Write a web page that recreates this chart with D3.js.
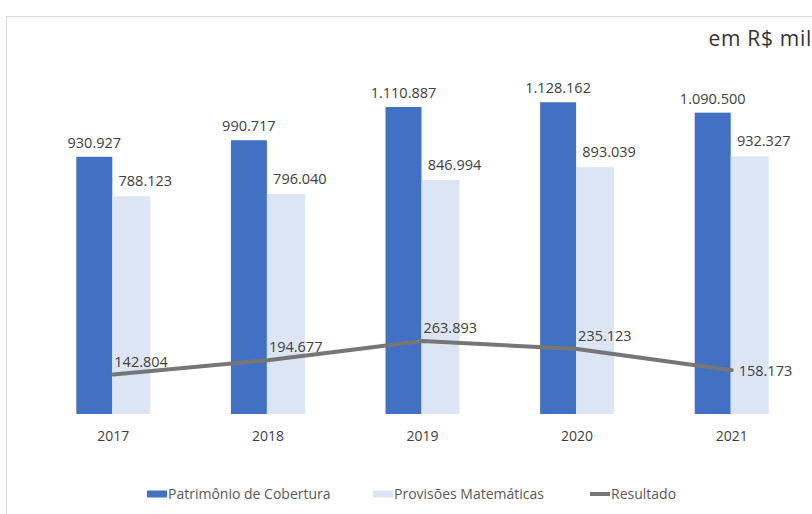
<!DOCTYPE html>
<html>
<head>
<meta charset="utf-8">
<script src="https://cdn.jsdelivr.net/npm/d3@7"></script>
<style>
  body { margin: 0; background: #fff; }
  svg { font-family: "Open Sans", sans-serif; }
</style>
</head>
<body>
<svg width="812" height="514"></svg>
<script>
// data (R$ mil)
var years = ["2017", "2018", "2019", "2020", "2021"];
var patrimonio = [930927, 990717, 1110887, 1128162, 1090500];
var provisoes = [788123, 796040, 846994, 893039, 932327];
var resultado = [142804, 194677, 263893, 235123, 158173];
var seriesNames = ["Patrimônio de Cobertura", "Provisões Matemáticas", "Resultado"];
var unitLabel = "em R$ mil";

var svg = d3.select("svg"),
  width = +svg.attr("width"),
  height = +svg.attr("height");

var ptBR = d3.formatLocale({decimal: ",", thousands: ".", grouping: [3], currency: ["R$", ""]});
var fmt = ptBR.format(",d");

var x0 = d3.scaleBand().domain(years).range([36, 809]).padding(0);
var y = d3.scaleLinear().domain([0, 1200000]).range([414, 82.4]);

var cx = function(d) { return x0(d) + x0.bandwidth() / 2; };

// chart border
svg.append("rect")
  .attr("x", 6.5).attr("y", 16.5)
  .attr("width", 900).attr("height", 600)
  .attr("fill", "none").attr("stroke", "#d9d9d9");

svg.append("text")
  .attr("x", 812).attr("y", 46)
  .attr("text-anchor", "end")
  .attr("font-size", 21)
  .attr("letter-spacing", 0.7)
  .attr("fill", "#333")
  .text(unitLabel);

var g = svg.append("g");

// bars
g.selectAll(".bar-p")
  .data(years)
  .enter().append("rect")
  .attr("class", "bar-p")
  .attr("x", function(d) { return cx(d) - 37; })
  .attr("y", function(d, i) { return y(patrimonio[i]); })
  .attr("width", 36)
  .attr("height", function(d, i) { return y(0) - y(patrimonio[i]); })
  .attr("fill", "#4271c3");

g.selectAll(".bar-m")
  .data(years)
  .enter().append("rect")
  .attr("class", "bar-m")
  .attr("x", function(d) { return cx(d) - 1; })
  .attr("y", function(d, i) { return y(provisoes[i]); })
  .attr("width", 38)
  .attr("height", function(d, i) { return y(0) - y(provisoes[i]); })
  .attr("fill", "#dce5f3");

// bar labels
g.selectAll(".lab-p")
  .data(years)
  .enter().append("text")
  .attr("class", "lab-p")
  .attr("x", function(d) { return cx(d) - 19; })
  .attr("y", function(d, i) { return y(patrimonio[i]) - 9; })
  .attr("text-anchor", "middle")
  .attr("font-size", 14.5)
  .attr("fill", "#404040")
  .text(function(d, i) { return fmt(patrimonio[i]); });

g.selectAll(".lab-m")
  .data(years)
  .enter().append("text")
  .attr("class", "lab-m")
  .attr("x", function(d) { return cx(d) + 32; })
  .attr("y", function(d, i) { return y(provisoes[i]) - 10; })
  .attr("text-anchor", "middle")
  .attr("font-size", 14.5)
  .attr("fill", "#404040")
  .text(function(d, i) { return fmt(provisoes[i]); });

// resultado line
var line = d3.line()
  .x(function(d) { return cx(d); })
  .y(function(d, i) { return y(resultado[i]); });

g.append("path")
  .datum(years)
  .attr("class", "line-r")
  .attr("d", line)
  .attr("fill", "none")
  .attr("stroke", "#767676")
  .attr("stroke-width", 4)
  .attr("stroke-linejoin", "round")
  .attr("stroke-linecap", "round");

g.selectAll(".lab-r")
  .data(years)
  .enter().append("text")
  .attr("class", "lab-r")
  .attr("x", function(d, i) { return cx(d) + (i === years.length - 1 ? 7 : 1); })
  .attr("y", function(d, i) { return y(resultado[i]) + (i === years.length - 1 ? 6 : -8); })
  .attr("font-size", 14.5)
  .attr("fill", "#404040")
  .text(function(d, i) { return fmt(resultado[i]); });

// x axis
var xAxis = g.append("g")
  .attr("transform", "translate(0,428)")
  .call(d3.axisBottom(x0).tickSize(0));
xAxis.select(".domain").remove();
xAxis.selectAll("text")
  .attr("font-family", "'Open Sans', sans-serif")
  .attr("font-size", 14)
  .attr("fill", "#404040");

// legend
var legend = svg.append("g").attr("font-size", 14).attr("fill", "#595959");
var lx = [147, 373, 590];
var lcol = ["#4271c3", "#dce5f3", "#767676"];
seriesNames.forEach(function(name, i) {
  var item = legend.append("g").attr("transform", "translate(" + lx[i] + ",494)");
  if (i < 2) {
    item.append("rect").attr("x", 0).attr("y", -3.5).attr("width", 20).attr("height", 7).attr("fill", lcol[i]);
  } else {
    item.append("line").attr("x1", 0).attr("x2", 20).attr("y1", 0).attr("y2", 0)
      .attr("stroke", lcol[i]).attr("stroke-width", 4);
  }
  item.append("text").attr("x", 21).attr("y", 5).text(name);
});
</script>
</body>
</html>
